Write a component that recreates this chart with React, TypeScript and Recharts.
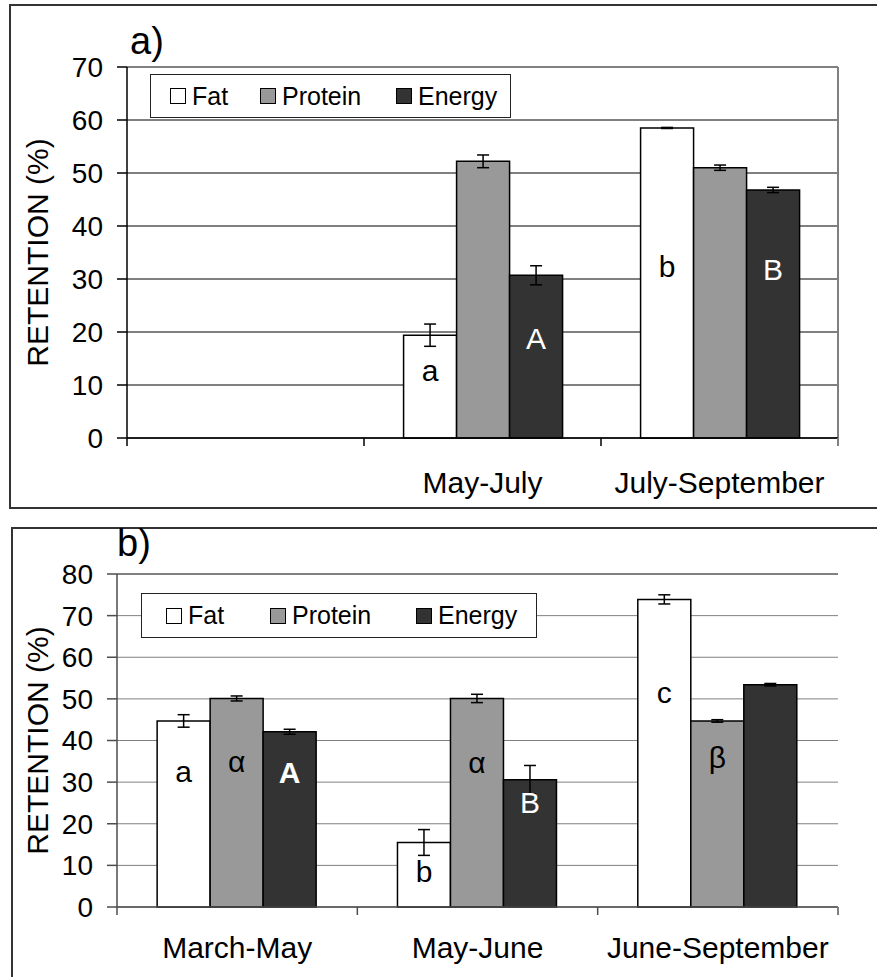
import React from "react";
import {
  BarChart,
  Bar,
  XAxis,
  YAxis,
  CartesianGrid,
  ErrorBar,
  LabelList,
  Legend,
  ReferenceLine,
  Label,
} from "recharts";

const FONT = '"Liberation Sans", Arial, Helvetica, sans-serif';

// a) first slot intentionally empty
const periodsA = ["", "May-July", "July-September"];
const fatA = [null, 19.4, 58.5];
const fatErrA = [null, 2.1, 0.1];
const proteinA = [null, 52.2, 51.0];
const proteinErrA = [null, 1.2, 0.5];
const energyA = [null, 30.7, 46.8];
const energyErrA = [null, 1.8, 0.5];
const fatTagsA = ["", "a", "b"];
const proteinTagsA = ["", "", ""];
const energyTagsA = ["", "A", "B"];
const ticksA = [0, 10, 20, 30, 40, 50, 60, 70];

// b)
const periodsB = ["March-May", "May-June", "June-September"];
const fatB = [44.7, 15.5, 73.9];
const fatErrB = [1.5, 3.1, 1.1];
const proteinB = [50.1, 50.1, 44.7];
const proteinErrB = [0.6, 1.0, 0.3];
const energyB = [42.1, 30.6, 53.4];
const energyErrB = [0.6, 3.4, 0.3];
const fatTagsB = ["a", "b", "c"];
const proteinTagsB = ["α", "α", "β"];
const energyTagsB = ["A", "B", ""];
const ticksB = [0, 10, 20, 30, 40, 50, 60, 70, 80];

type SeriesKey = "fat" | "protein" | "energy";
type Num = number | null;

const SERIES: { key: SeriesKey; name: string; fill: string; tagColor: string }[] = [
  { key: "fat", name: "Fat", fill: "#ffffff", tagColor: "#000000" },
  { key: "protein", name: "Protein", fill: "#999999", tagColor: "#000000" },
  { key: "energy", name: "Energy", fill: "#333333", tagColor: "#ffffff" },
];

const CHART_W = 877;
const PLOT_RIGHT = 838;

function buildRows(
  periods: string[],
  vals: Record<SeriesKey, Num[]>,
  errs: Record<SeriesKey, Num[]>,
  tags: Record<SeriesKey, string[]>
) {
  return periods.map((period, i) => ({
    period,
    fat: vals.fat[i],
    fatErr: errs.fat[i],
    fatTag: tags.fat[i],
    protein: vals.protein[i],
    proteinErr: errs.protein[i],
    proteinTag: tags.protein[i],
    energy: vals.energy[i],
    energyErr: errs.energy[i],
    energyTag: tags.energy[i],
  }));
}

const rowsA = buildRows(
  periodsA,
  { fat: fatA, protein: proteinA, energy: energyA },
  { fat: fatErrA, protein: proteinErrA, energy: energyErrA },
  { fat: fatTagsA, protein: proteinTagsA, energy: energyTagsA }
);

const rowsB = buildRows(
  periodsB,
  { fat: fatB, protein: proteinB, energy: energyB },
  { fat: fatErrB, protein: proteinErrB, energy: energyErrB },
  { fat: fatTagsB, protein: proteinTagsB, energy: energyTagsB }
);

interface PanelConfig {
  title: string;
  titleTop: number;
  titleLeft: number;
  top: number;
  height: number;
  marginTop: number;
  marginBottom: number;
  yAxisWidth: number;
  xAxisHeight: number;
  labelDy: number;
  ticks: number[];
  axisColor: string;
  gridColor: string;
  legend: { left: number; top: number; width: number; height: number; slots: number[] };
  // height (in axis units) at which each significance letter sits inside its bar
  tagLevels: Record<SeriesKey, number[]>;
  boldTag?: { key: SeriesKey; index: number };
}

const panelA: PanelConfig = {
  title: "a)",
  titleTop: 22,
  titleLeft: 130,
  top: 0,
  height: 520,
  marginTop: 67,
  marginBottom: 22,
  yAxisWidth: 127,
  xAxisHeight: 60,
  labelDy: 44,
  ticks: ticksA,
  axisColor: "#000000",
  gridColor: "#000000",
  legend: { left: 150, top: 74, width: 361, height: 44, slots: [19, 109, 245] },
  tagLevels: {
    fat: [0, 12.8, 32.3],
    protein: [0, 0, 0],
    energy: [0, 18.8, 31.7],
  },
};

const panelB: PanelConfig = {
  title: "b)",
  titleTop: 524,
  titleLeft: 117,
  top: 520,
  height: 457,
  marginTop: 54,
  marginBottom: 20,
  yAxisWidth: 117,
  xAxisHeight: 50,
  labelDy: 40,
  ticks: ticksB,
  axisColor: "#4d4d4d",
  gridColor: "#808080",
  legend: { left: 141, top: 73, width: 396, height: 45, slots: [24, 128, 274] },
  tagLevels: {
    fat: [32.6, 8.6, 51.5],
    protein: [35.0, 34.6, 35.8],
    energy: [32.3, 25.0, 0],
  },
  boldTag: { key: "energy", index: 0 },
};

function LegendBox({ cfg }: { cfg: PanelConfig }) {
  const { width, height, slots } = cfg.legend;
  return (
    <div
      style={{
        position: "relative",
        width,
        height,
        boxSizing: "border-box",
        border: "1px solid #222",
        background: "#fff",
        fontFamily: FONT,
        fontSize: 25,
        color: "#000",
      }}
    >
      {SERIES.map((s, i) => (
        <div
          key={s.key}
          style={{
            position: "absolute",
            left: slots[i],
            top: 0,
            height: "100%",
            display: "flex",
            alignItems: "center",
            whiteSpace: "nowrap",
          }}
        >
          <span
            style={{
              display: "inline-block",
              width: 16,
              height: 16,
              boxSizing: "border-box",
              border: "1px solid #000",
              background: s.fill,
              marginRight: 6,
            }}
          />
          <span>{s.name}</span>
        </div>
      ))}
    </div>
  );
}

function Panel({ cfg, rows }: { cfg: PanelConfig; rows: ReturnType<typeof buildRows> }) {
  const plotBottom = cfg.height - cfg.marginBottom - cfg.xAxisHeight;
  const band = (PLOT_RIGHT - cfg.yAxisWidth) / rows.length;
  const max = cfg.ticks[cfg.ticks.length - 1];

  // category labels sit under each slot, with tick marks on the slot edges
  const renderCategoryTick = (props: any) => {
    const { x, payload, index } = props;
    const left = x - band / 2;
    return (
      <g>
        <line x1={left} x2={left} y1={plotBottom} y2={plotBottom + 8} stroke={cfg.axisColor} strokeWidth={1.5} />
        {index === rows.length - 1 && (
          <line
            x1={x + band / 2}
            x2={x + band / 2}
            y1={plotBottom}
            y2={plotBottom + 8}
            stroke="#808080"
            strokeWidth={2}
          />
        )}
        <text
          x={x}
          y={plotBottom + cfg.labelDy}
          textAnchor="middle"
          dominantBaseline="central"
          fontSize={30}
          fontFamily={FONT}
          fill="#000"
        >
          {payload.value}
        </text>
      </g>
    );
  };

  const renderAxisTitle = (props: any) => {
    const vb = props.viewBox || {};
    const cx = (vb.x || 0) + 37;
    const cy = (vb.y || 0) + (vb.height || 0) / 2;
    return (
      <text
        x={cx}
        y={cy}
        transform={`rotate(-90 ${cx} ${cy})`}
        textAnchor="middle"
        dominantBaseline="central"
        fontSize={30}
        fontFamily={FONT}
        fill="#000"
      >
        RETENTION (%)
      </text>
    );
  };

  // the slot a bar belongs to is found from its centre, since empty rows are skipped
  const makeTagRenderer = (key: SeriesKey, color: string) => (props: any) => {
    const { value } = props;
    const box = props.viewBox && props.viewBox.height != null ? props.viewBox : props;
    const { x, y, width, height } = box;
    if (!value || x == null) return null;
    const slot = Math.floor((x + width / 2 - cfg.yAxisWidth) / band);
    const v = rows[slot]?.[key] as Num;
    if (v == null) return null;
    const level = cfg.tagLevels[key][slot];
    const cy = y + height * (1 - level / v);
    const bold = cfg.boldTag && cfg.boldTag.key === key && cfg.boldTag.index === slot;
    return (
      <text
        x={x + width / 2}
        y={cy}
        textAnchor="middle"
        dominantBaseline="central"
        fontSize={30}
        fontWeight={bold ? 700 : 400}
        fontFamily={FONT}
        fill={color}
      >
        {value}
      </text>
    );
  };

  return (
    <div style={{ position: "absolute", left: 0, top: cfg.top }}>
      <BarChart
        width={CHART_W}
        height={cfg.height}
        data={rows}
        margin={{ top: cfg.marginTop, right: CHART_W - PLOT_RIGHT, bottom: cfg.marginBottom, left: 0 }}
        barCategoryGap="16.7%"
        barGap={0}
      >
        <CartesianGrid vertical={false} stroke={cfg.gridColor} strokeWidth={1} />
        <XAxis
          dataKey="period"
          height={cfg.xAxisHeight}
          interval={0}
          tickLine={false}
          axisLine={{ stroke: cfg.axisColor, strokeWidth: 1.5 }}
          tick={renderCategoryTick}
        />
        <YAxis
          width={cfg.yAxisWidth}
          domain={[0, max]}
          ticks={cfg.ticks}
          interval={0}
          tickSize={10}
          tickMargin={14}
          axisLine={{ stroke: cfg.axisColor, strokeWidth: 1.5 }}
          tickLine={{ stroke: cfg.axisColor, strokeWidth: 1.5 }}
          tick={{ fontSize: 28, fill: "#000", fontFamily: FONT }}
        >
          <Label content={renderAxisTitle} />
        </YAxis>
        <ReferenceLine y={max} stroke="#808080" strokeWidth={2} />
        <ReferenceLine x={rows[rows.length - 1].period} position="end" stroke="#808080" strokeWidth={2} />
        <Legend
          layout="horizontal"
          verticalAlign="middle"
          align="center"
          content={() => <LegendBox cfg={cfg} />}
          wrapperStyle={{
            left: cfg.legend.left,
            top: cfg.legend.top,
            width: cfg.legend.width,
            height: cfg.legend.height,
          }}
        />
        {SERIES.map((s) => (
          <Bar
            key={s.key}
            dataKey={s.key}
            name={s.name}
            fill={s.fill}
            stroke="#000"
            strokeWidth={1.5}
            isAnimationActive={false}
          >
            <ErrorBar dataKey={`${s.key}Err`} width={6} stroke="#000" strokeWidth={1.5} direction="y" />
            <LabelList dataKey={`${s.key}Tag`} content={makeTagRenderer(s.key, s.tagColor)} />
          </Bar>
        ))}
      </BarChart>
    </div>
  );
}

export default function App() {
  return (
    <div
      style={{
        position: "absolute",
        left: 0,
        top: 0,
        width: 877,
        height: 977,
        overflow: "hidden",
        background: "#fff",
        fontFamily: FONT,
      }}
    >
      {/* panel frames */}
      <div
        style={{
          position: "absolute",
          left: 9,
          top: 4,
          width: 900,
          height: 505,
          boxSizing: "border-box",
          border: "2px solid #333",
        }}
      />
      <div
        style={{
          position: "absolute",
          left: 11,
          top: 527,
          width: 900,
          height: 500,
          boxSizing: "border-box",
          border: "2px solid #333",
        }}
      />
      <Panel cfg={panelA} rows={rowsA} />
      <Panel cfg={panelB} rows={rowsB} />
      {[panelA, panelB].map((p) => (
        <div
          key={p.title}
          style={{ position: "absolute", left: p.titleLeft, top: p.titleTop, fontSize: 38, lineHeight: "38px" }}
        >
          {p.title}
        </div>
      ))}
    </div>
  );
}
